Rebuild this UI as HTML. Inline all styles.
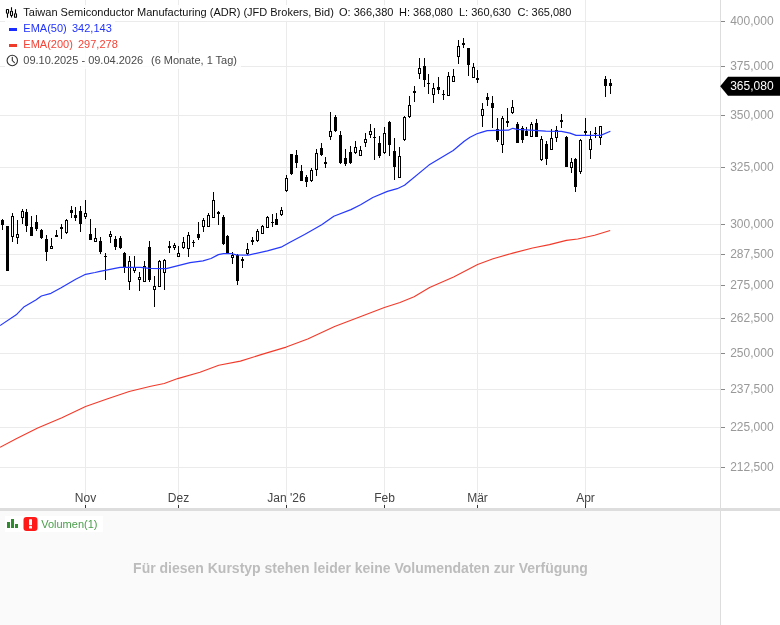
<!DOCTYPE html>
<html><head><meta charset="utf-8"><title>Chart</title>
<style>
html,body{margin:0;padding:0;background:#fff;}
body{width:780px;height:625px;overflow:hidden;font-family:"Liberation Sans",sans-serif;}
svg{display:block;will-change:transform;}
text{font-family:"Liberation Sans",sans-serif;}
</style></head><body>
<svg width="780" height="625" viewBox="0 0 780 625">
<rect x="0" y="0" width="780" height="625" fill="#ffffff"/>

<g shape-rendering="crispEdges">
<rect x="0" y="21" width="720" height="1" fill="#ebebeb"/>
<rect x="0" y="66" width="720" height="1" fill="#ebebeb"/>
<rect x="0" y="115" width="720" height="1" fill="#ebebeb"/>
<rect x="0" y="167" width="720" height="1" fill="#ebebeb"/>
<rect x="0" y="224" width="720" height="1" fill="#ebebeb"/>
<rect x="0" y="254" width="720" height="1" fill="#ebebeb"/>
<rect x="0" y="285" width="720" height="1" fill="#ebebeb"/>
<rect x="0" y="318" width="720" height="1" fill="#ebebeb"/>
<rect x="0" y="353" width="720" height="1" fill="#ebebeb"/>
<rect x="0" y="389" width="720" height="1" fill="#ebebeb"/>
<rect x="0" y="427" width="720" height="1" fill="#ebebeb"/>
<rect x="0" y="467" width="720" height="1" fill="#ebebeb"/>
<rect x="85" y="0" width="1" height="508" fill="#ebebeb"/>
<rect x="178" y="0" width="1" height="508" fill="#ebebeb"/>
<rect x="286" y="0" width="1" height="508" fill="#ebebeb"/>
<rect x="384" y="0" width="1" height="508" fill="#ebebeb"/>
<rect x="477" y="0" width="1" height="508" fill="#ebebeb"/>
<rect x="585" y="0" width="1" height="508" fill="#ebebeb"/>
</g>
<g shape-rendering="crispEdges">
<rect x="0" y="511" width="720" height="114" fill="#fafafa"/>
<rect x="0" y="508" width="780" height="3" fill="#dddddd"/>
<rect x="720" y="0" width="1" height="625" fill="#dddddd"/>
<rect x="721" y="21" width="4" height="1" fill="#888888"/>
<rect x="721" y="66" width="4" height="1" fill="#888888"/>
<rect x="721" y="115" width="4" height="1" fill="#888888"/>
<rect x="721" y="167" width="4" height="1" fill="#888888"/>
<rect x="721" y="224" width="4" height="1" fill="#888888"/>
<rect x="721" y="254" width="4" height="1" fill="#888888"/>
<rect x="721" y="285" width="4" height="1" fill="#888888"/>
<rect x="721" y="318" width="4" height="1" fill="#888888"/>
<rect x="721" y="353" width="4" height="1" fill="#888888"/>
<rect x="721" y="389" width="4" height="1" fill="#888888"/>
<rect x="721" y="427" width="4" height="1" fill="#888888"/>
<rect x="721" y="467" width="4" height="1" fill="#888888"/>
<rect x="85" y="505" width="1" height="3" fill="#333333"/>
<rect x="178" y="505" width="1" height="3" fill="#333333"/>
<rect x="286" y="505" width="1" height="3" fill="#333333"/>
<rect x="384" y="505" width="1" height="3" fill="#333333"/>
<rect x="477" y="505" width="1" height="3" fill="#333333"/>
<rect x="585" y="505" width="1" height="3" fill="#333333"/>
</g>
<g shape-rendering="crispEdges">
<rect x="2" y="219" width="1" height="11" fill="#000"/>
<rect x="1" y="220" width="3" height="5" fill="#000"/>
<rect x="7" y="226" width="1" height="45" fill="#000"/>
<rect x="6" y="226" width="3" height="45" fill="#000"/>
<rect x="12" y="213" width="1" height="29" fill="#000"/>
<rect x="11" y="216" width="3" height="21" fill="#000"/>
<rect x="12" y="217" width="1" height="19" fill="#fff"/>
<rect x="17" y="220" width="1" height="24" fill="#000"/>
<rect x="16" y="234" width="3" height="4" fill="#000"/>
<rect x="17" y="235" width="1" height="2" fill="#fff"/>
<rect x="22" y="209" width="1" height="15" fill="#000"/>
<rect x="21" y="211" width="3" height="7" fill="#000"/>
<rect x="22" y="212" width="1" height="5" fill="#fff"/>
<rect x="26" y="209" width="1" height="23" fill="#000"/>
<rect x="25" y="212" width="3" height="14" fill="#000"/>
<rect x="31" y="216" width="1" height="20" fill="#000"/>
<rect x="30" y="227" width="3" height="9" fill="#000"/>
<rect x="36" y="215" width="1" height="16" fill="#000"/>
<rect x="35" y="222" width="3" height="7" fill="#000"/>
<rect x="41" y="229" width="1" height="10" fill="#000"/>
<rect x="40" y="230" width="3" height="8" fill="#000"/>
<rect x="46" y="235" width="1" height="26" fill="#000"/>
<rect x="45" y="239" width="3" height="13" fill="#000"/>
<rect x="51" y="238" width="1" height="11" fill="#000"/>
<rect x="50" y="246" width="3" height="3" fill="#000"/>
<rect x="51" y="247" width="1" height="1" fill="#fff"/>
<rect x="56" y="230" width="1" height="7" fill="#000"/>
<rect x="55" y="235" width="3" height="2" fill="#000"/>
<rect x="61" y="224" width="1" height="15" fill="#000"/>
<rect x="60" y="227" width="3" height="2" fill="#000"/>
<rect x="66" y="219" width="1" height="15" fill="#000"/>
<rect x="65" y="220" width="3" height="13" fill="#000"/>
<rect x="66" y="221" width="1" height="11" fill="#fff"/>
<rect x="71" y="206" width="1" height="12" fill="#000"/>
<rect x="70" y="210" width="3" height="3" fill="#000"/>
<rect x="75" y="207" width="1" height="14" fill="#000"/>
<rect x="74" y="215" width="3" height="3" fill="#000"/>
<rect x="80" y="206" width="1" height="26" fill="#000"/>
<rect x="79" y="211" width="3" height="13" fill="#000"/>
<rect x="85" y="200" width="1" height="19" fill="#000"/>
<rect x="84" y="213" width="3" height="4" fill="#000"/>
<rect x="85" y="214" width="1" height="2" fill="#fff"/>
<rect x="90" y="219" width="1" height="21" fill="#000"/>
<rect x="89" y="234" width="3" height="6" fill="#000"/>
<rect x="95" y="228" width="1" height="14" fill="#000"/>
<rect x="94" y="238" width="3" height="4" fill="#000"/>
<rect x="95" y="239" width="1" height="2" fill="#fff"/>
<rect x="100" y="237" width="1" height="17" fill="#000"/>
<rect x="99" y="241" width="3" height="11" fill="#000"/>
<rect x="105" y="253" width="1" height="27" fill="#000"/>
<rect x="104" y="256" width="3" height="1" fill="#000"/>
<rect x="110" y="231" width="1" height="12" fill="#000"/>
<rect x="109" y="234" width="3" height="3" fill="#000"/>
<rect x="110" y="235" width="1" height="1" fill="#fff"/>
<rect x="115" y="236" width="1" height="14" fill="#000"/>
<rect x="114" y="239" width="3" height="8" fill="#000"/>
<rect x="120" y="236" width="1" height="13" fill="#000"/>
<rect x="119" y="238" width="3" height="10" fill="#000"/>
<rect x="124" y="252" width="1" height="21" fill="#000"/>
<rect x="123" y="253" width="3" height="15" fill="#000"/>
<rect x="129" y="256" width="1" height="34" fill="#000"/>
<rect x="128" y="261" width="3" height="21" fill="#000"/>
<rect x="129" y="262" width="1" height="19" fill="#fff"/>
<rect x="134" y="256" width="1" height="17" fill="#000"/>
<rect x="133" y="267" width="3" height="4" fill="#000"/>
<rect x="134" y="268" width="1" height="2" fill="#fff"/>
<rect x="139" y="272" width="1" height="19" fill="#000"/>
<rect x="138" y="277" width="3" height="3" fill="#000"/>
<rect x="139" y="278" width="1" height="1" fill="#fff"/>
<rect x="144" y="261" width="1" height="21" fill="#000"/>
<rect x="143" y="266" width="3" height="16" fill="#000"/>
<rect x="144" y="267" width="1" height="14" fill="#fff"/>
<rect x="149" y="241" width="1" height="41" fill="#000"/>
<rect x="148" y="247" width="3" height="33" fill="#000"/>
<rect x="154" y="276" width="1" height="31" fill="#000"/>
<rect x="153" y="286" width="3" height="4" fill="#000"/>
<rect x="154" y="287" width="1" height="2" fill="#fff"/>
<rect x="159" y="260" width="1" height="27" fill="#000"/>
<rect x="158" y="261" width="3" height="26" fill="#000"/>
<rect x="159" y="262" width="1" height="24" fill="#fff"/>
<rect x="164" y="259" width="1" height="31" fill="#000"/>
<rect x="163" y="260" width="3" height="13" fill="#000"/>
<rect x="164" y="261" width="1" height="11" fill="#fff"/>
<rect x="169" y="241" width="1" height="12" fill="#000"/>
<rect x="168" y="246" width="3" height="2" fill="#000"/>
<rect x="174" y="243" width="1" height="7" fill="#000"/>
<rect x="173" y="245" width="3" height="3" fill="#000"/>
<rect x="174" y="246" width="1" height="1" fill="#fff"/>
<rect x="178" y="246" width="1" height="11" fill="#000"/>
<rect x="177" y="253" width="3" height="4" fill="#000"/>
<rect x="178" y="254" width="1" height="2" fill="#fff"/>
<rect x="183" y="237" width="1" height="12" fill="#000"/>
<rect x="182" y="242" width="3" height="6" fill="#000"/>
<rect x="183" y="243" width="1" height="4" fill="#fff"/>
<rect x="188" y="232" width="1" height="25" fill="#000"/>
<rect x="187" y="235" width="3" height="14" fill="#000"/>
<rect x="188" y="236" width="1" height="12" fill="#fff"/>
<rect x="193" y="240" width="1" height="7" fill="#000"/>
<rect x="192" y="242" width="3" height="1" fill="#000"/>
<rect x="198" y="222" width="1" height="18" fill="#000"/>
<rect x="197" y="234" width="3" height="4" fill="#000"/>
<rect x="203" y="218" width="1" height="14" fill="#000"/>
<rect x="202" y="220" width="3" height="7" fill="#000"/>
<rect x="203" y="221" width="1" height="5" fill="#fff"/>
<rect x="208" y="213" width="1" height="14" fill="#000"/>
<rect x="207" y="215" width="3" height="12" fill="#000"/>
<rect x="208" y="216" width="1" height="10" fill="#fff"/>
<rect x="213" y="192" width="1" height="26" fill="#000"/>
<rect x="212" y="200" width="3" height="18" fill="#000"/>
<rect x="213" y="201" width="1" height="16" fill="#fff"/>
<rect x="218" y="211" width="1" height="14" fill="#000"/>
<rect x="217" y="212" width="3" height="2" fill="#000"/>
<rect x="223" y="215" width="1" height="30" fill="#000"/>
<rect x="222" y="217" width="3" height="27" fill="#000"/>
<rect x="227" y="235" width="1" height="19" fill="#000"/>
<rect x="226" y="236" width="3" height="18" fill="#000"/>
<rect x="232" y="252" width="1" height="12" fill="#000"/>
<rect x="231" y="255" width="3" height="3" fill="#000"/>
<rect x="232" y="256" width="1" height="1" fill="#fff"/>
<rect x="237" y="254" width="1" height="31" fill="#000"/>
<rect x="236" y="255" width="3" height="26" fill="#000"/>
<rect x="242" y="257" width="1" height="11" fill="#000"/>
<rect x="241" y="259" width="3" height="2" fill="#000"/>
<rect x="247" y="243" width="1" height="12" fill="#000"/>
<rect x="246" y="249" width="3" height="5" fill="#000"/>
<rect x="247" y="250" width="1" height="3" fill="#fff"/>
<rect x="252" y="237" width="1" height="8" fill="#000"/>
<rect x="251" y="240" width="3" height="2" fill="#000"/>
<rect x="257" y="229" width="1" height="13" fill="#000"/>
<rect x="256" y="231" width="3" height="10" fill="#000"/>
<rect x="257" y="232" width="1" height="8" fill="#fff"/>
<rect x="262" y="225" width="1" height="9" fill="#000"/>
<rect x="261" y="226" width="3" height="8" fill="#000"/>
<rect x="262" y="227" width="1" height="6" fill="#fff"/>
<rect x="267" y="216" width="1" height="12" fill="#000"/>
<rect x="266" y="217" width="3" height="11" fill="#000"/>
<rect x="267" y="218" width="1" height="9" fill="#fff"/>
<rect x="272" y="214" width="1" height="13" fill="#000"/>
<rect x="271" y="222" width="3" height="1" fill="#000"/>
<rect x="276" y="213" width="1" height="12" fill="#000"/>
<rect x="275" y="219" width="3" height="6" fill="#000"/>
<rect x="281" y="207" width="1" height="9" fill="#000"/>
<rect x="280" y="210" width="3" height="5" fill="#000"/>
<rect x="281" y="211" width="1" height="3" fill="#fff"/>
<rect x="286" y="175" width="1" height="17" fill="#000"/>
<rect x="285" y="178" width="3" height="13" fill="#000"/>
<rect x="286" y="179" width="1" height="11" fill="#fff"/>
<rect x="291" y="154" width="1" height="21" fill="#000"/>
<rect x="290" y="154" width="3" height="20" fill="#000"/>
<rect x="296" y="150" width="1" height="18" fill="#000"/>
<rect x="295" y="155" width="3" height="8" fill="#000"/>
<rect x="301" y="165" width="1" height="16" fill="#000"/>
<rect x="300" y="171" width="3" height="10" fill="#000"/>
<rect x="306" y="175" width="1" height="12" fill="#000"/>
<rect x="305" y="177" width="3" height="5" fill="#000"/>
<rect x="311" y="168" width="1" height="14" fill="#000"/>
<rect x="310" y="170" width="3" height="11" fill="#000"/>
<rect x="311" y="171" width="1" height="9" fill="#fff"/>
<rect x="316" y="149" width="1" height="27" fill="#000"/>
<rect x="315" y="153" width="3" height="17" fill="#000"/>
<rect x="316" y="154" width="1" height="15" fill="#fff"/>
<rect x="321" y="143" width="1" height="13" fill="#000"/>
<rect x="320" y="148" width="3" height="7" fill="#000"/>
<rect x="325" y="157" width="1" height="11" fill="#000"/>
<rect x="324" y="162" width="3" height="2" fill="#000"/>
<rect x="330" y="112" width="1" height="28" fill="#000"/>
<rect x="329" y="131" width="3" height="6" fill="#000"/>
<rect x="330" y="132" width="1" height="4" fill="#fff"/>
<rect x="335" y="115" width="1" height="17" fill="#000"/>
<rect x="334" y="117" width="3" height="14" fill="#000"/>
<rect x="340" y="131" width="1" height="33" fill="#000"/>
<rect x="339" y="135" width="3" height="28" fill="#000"/>
<rect x="345" y="149" width="1" height="17" fill="#000"/>
<rect x="344" y="158" width="3" height="6" fill="#000"/>
<rect x="350" y="146" width="1" height="18" fill="#000"/>
<rect x="349" y="152" width="3" height="11" fill="#000"/>
<rect x="355" y="141" width="1" height="13" fill="#000"/>
<rect x="354" y="147" width="3" height="6" fill="#000"/>
<rect x="355" y="148" width="1" height="4" fill="#fff"/>
<rect x="360" y="146" width="1" height="10" fill="#000"/>
<rect x="359" y="150" width="3" height="6" fill="#000"/>
<rect x="360" y="151" width="1" height="4" fill="#fff"/>
<rect x="365" y="133" width="1" height="14" fill="#000"/>
<rect x="364" y="139" width="3" height="4" fill="#000"/>
<rect x="365" y="140" width="1" height="2" fill="#fff"/>
<rect x="370" y="124" width="1" height="14" fill="#000"/>
<rect x="369" y="131" width="3" height="4" fill="#000"/>
<rect x="370" y="132" width="1" height="2" fill="#fff"/>
<rect x="374" y="128" width="1" height="32" fill="#000"/>
<rect x="373" y="137" width="3" height="1" fill="#000"/>
<rect x="379" y="136" width="1" height="22" fill="#000"/>
<rect x="378" y="143" width="3" height="13" fill="#000"/>
<rect x="384" y="127" width="1" height="27" fill="#000"/>
<rect x="383" y="133" width="3" height="20" fill="#000"/>
<rect x="384" y="134" width="1" height="18" fill="#fff"/>
<rect x="389" y="121" width="1" height="35" fill="#000"/>
<rect x="388" y="122" width="3" height="23" fill="#000"/>
<rect x="394" y="138" width="1" height="42" fill="#000"/>
<rect x="393" y="151" width="3" height="16" fill="#000"/>
<rect x="399" y="147" width="1" height="31" fill="#000"/>
<rect x="398" y="156" width="3" height="22" fill="#000"/>
<rect x="399" y="157" width="1" height="20" fill="#fff"/>
<rect x="404" y="116" width="1" height="25" fill="#000"/>
<rect x="403" y="117" width="3" height="23" fill="#000"/>
<rect x="404" y="118" width="1" height="21" fill="#fff"/>
<rect x="409" y="96" width="1" height="22" fill="#000"/>
<rect x="408" y="105" width="3" height="12" fill="#000"/>
<rect x="409" y="106" width="1" height="10" fill="#fff"/>
<rect x="414" y="86" width="1" height="16" fill="#000"/>
<rect x="413" y="91" width="3" height="2" fill="#000"/>
<rect x="419" y="58" width="1" height="21" fill="#000"/>
<rect x="418" y="68" width="3" height="6" fill="#000"/>
<rect x="419" y="69" width="1" height="4" fill="#fff"/>
<rect x="424" y="58" width="1" height="29" fill="#000"/>
<rect x="423" y="66" width="3" height="14" fill="#000"/>
<rect x="428" y="74" width="1" height="20" fill="#000"/>
<rect x="427" y="83" width="3" height="1" fill="#000"/>
<rect x="433" y="83" width="1" height="20" fill="#000"/>
<rect x="432" y="88" width="3" height="7" fill="#000"/>
<rect x="433" y="89" width="1" height="5" fill="#fff"/>
<rect x="438" y="77" width="1" height="17" fill="#000"/>
<rect x="437" y="87" width="3" height="3" fill="#000"/>
<rect x="443" y="90" width="1" height="10" fill="#000"/>
<rect x="442" y="94" width="3" height="1" fill="#000"/>
<rect x="448" y="72" width="1" height="24" fill="#000"/>
<rect x="447" y="76" width="3" height="20" fill="#000"/>
<rect x="448" y="77" width="1" height="18" fill="#fff"/>
<rect x="453" y="69" width="1" height="13" fill="#000"/>
<rect x="452" y="76" width="3" height="6" fill="#000"/>
<rect x="453" y="77" width="1" height="4" fill="#fff"/>
<rect x="458" y="40" width="1" height="24" fill="#000"/>
<rect x="457" y="46" width="3" height="11" fill="#000"/>
<rect x="458" y="47" width="1" height="9" fill="#fff"/>
<rect x="463" y="38" width="1" height="10" fill="#000"/>
<rect x="462" y="43" width="3" height="2" fill="#000"/>
<rect x="468" y="48" width="1" height="28" fill="#000"/>
<rect x="467" y="48" width="3" height="17" fill="#000"/>
<rect x="473" y="63" width="1" height="15" fill="#000"/>
<rect x="472" y="67" width="3" height="11" fill="#000"/>
<rect x="473" y="68" width="1" height="9" fill="#fff"/>
<rect x="477" y="70" width="1" height="13" fill="#000"/>
<rect x="476" y="78" width="3" height="2" fill="#000"/>
<rect x="482" y="103" width="1" height="24" fill="#000"/>
<rect x="481" y="109" width="3" height="7" fill="#000"/>
<rect x="482" y="110" width="1" height="5" fill="#fff"/>
<rect x="487" y="93" width="1" height="13" fill="#000"/>
<rect x="486" y="97" width="3" height="3" fill="#000"/>
<rect x="492" y="96" width="1" height="32" fill="#000"/>
<rect x="491" y="103" width="3" height="5" fill="#000"/>
<rect x="497" y="118" width="1" height="24" fill="#000"/>
<rect x="496" y="129" width="3" height="11" fill="#000"/>
<rect x="502" y="116" width="1" height="37" fill="#000"/>
<rect x="501" y="118" width="3" height="27" fill="#000"/>
<rect x="502" y="119" width="1" height="25" fill="#fff"/>
<rect x="507" y="108" width="1" height="19" fill="#000"/>
<rect x="506" y="121" width="3" height="2" fill="#000"/>
<rect x="512" y="100" width="1" height="14" fill="#000"/>
<rect x="511" y="107" width="3" height="6" fill="#000"/>
<rect x="512" y="108" width="1" height="4" fill="#fff"/>
<rect x="517" y="122" width="1" height="21" fill="#000"/>
<rect x="516" y="124" width="3" height="19" fill="#000"/>
<rect x="522" y="126" width="1" height="17" fill="#000"/>
<rect x="521" y="128" width="3" height="12" fill="#000"/>
<rect x="526" y="127" width="1" height="9" fill="#000"/>
<rect x="525" y="131" width="3" height="5" fill="#000"/>
<rect x="531" y="122" width="1" height="15" fill="#000"/>
<rect x="530" y="124" width="3" height="13" fill="#000"/>
<rect x="531" y="125" width="1" height="11" fill="#fff"/>
<rect x="536" y="119" width="1" height="18" fill="#000"/>
<rect x="535" y="123" width="3" height="14" fill="#000"/>
<rect x="541" y="136" width="1" height="25" fill="#000"/>
<rect x="540" y="139" width="3" height="21" fill="#000"/>
<rect x="541" y="140" width="1" height="19" fill="#fff"/>
<rect x="546" y="141" width="1" height="24" fill="#000"/>
<rect x="545" y="144" width="3" height="15" fill="#000"/>
<rect x="551" y="129" width="1" height="21" fill="#000"/>
<rect x="550" y="138" width="3" height="12" fill="#000"/>
<rect x="551" y="139" width="1" height="10" fill="#fff"/>
<rect x="556" y="126" width="1" height="16" fill="#000"/>
<rect x="555" y="130" width="3" height="8" fill="#000"/>
<rect x="556" y="131" width="1" height="6" fill="#fff"/>
<rect x="561" y="114" width="1" height="14" fill="#000"/>
<rect x="560" y="120" width="3" height="2" fill="#000"/>
<rect x="566" y="136" width="1" height="31" fill="#000"/>
<rect x="565" y="137" width="3" height="30" fill="#000"/>
<rect x="571" y="158" width="1" height="15" fill="#000"/>
<rect x="570" y="162" width="3" height="6" fill="#000"/>
<rect x="571" y="163" width="1" height="4" fill="#fff"/>
<rect x="575" y="158" width="1" height="34" fill="#000"/>
<rect x="574" y="159" width="3" height="28" fill="#000"/>
<rect x="580" y="139" width="1" height="35" fill="#000"/>
<rect x="579" y="140" width="3" height="32" fill="#000"/>
<rect x="580" y="141" width="1" height="30" fill="#fff"/>
<rect x="585" y="118" width="1" height="17" fill="#000"/>
<rect x="584" y="131" width="3" height="2" fill="#000"/>
<rect x="590" y="131" width="1" height="28" fill="#000"/>
<rect x="589" y="139" width="3" height="11" fill="#000"/>
<rect x="590" y="140" width="1" height="9" fill="#fff"/>
<rect x="595" y="127" width="1" height="11" fill="#000"/>
<rect x="594" y="133" width="3" height="1" fill="#000"/>
<rect x="600" y="126" width="1" height="19" fill="#000"/>
<rect x="599" y="126" width="3" height="12" fill="#000"/>
<rect x="600" y="127" width="1" height="10" fill="#fff"/>
<rect x="605" y="76" width="1" height="21" fill="#000"/>
<rect x="604" y="79" width="3" height="7" fill="#000"/>
<rect x="610" y="79" width="1" height="15" fill="#000"/>
<rect x="609" y="83" width="3" height="3" fill="#000"/>
</g>
<path d="M0.0,447.3 L16.2,438.7 L37.7,427.9 L61.9,417.7 L85.6,406.4 L107.7,398.8 L129.2,391.5 L150.8,386.2 L164.2,383.5 L177.7,378.6 L200.0,372.2 L218.8,365.2 L240.4,361.1 L261.9,354.4 L286.2,347.1 L307.7,339.0 L334.6,326.4 L361.5,316.2 L384.4,307.5 L400.0,302.4 L414.1,296.8 L429.6,287.5 L453.6,277.1 L477.6,264.4 L493.1,258.7 L512.8,253.1 L532.6,248.0 L549.5,244.6 L566.4,240.4 L577.7,239.0 L594.6,235.3 L610.2,230.5" fill="none" stroke="#f23a2a" stroke-width="1.1" stroke-linejoin="round"/>
<path d="M0.0,325.6 L16.2,314.8 L24.2,306.7 L35.8,300.0 L41.4,296.0 L51.0,293.3 L60.7,288.0 L75.7,279.2 L85.6,274.3 L95.0,272.5 L100.0,271.3 L115.0,268.4 L120.2,267.4 L130.0,267.3 L140.6,267.3 L149.6,268.4 L166.2,268.6 L190.0,262.7 L203.0,260.9 L211.0,258.5 L218.4,254.6 L223.5,253.6 L231.2,253.5 L236.3,254.9 L248.3,255.2 L267.4,250.9 L281.0,247.2 L290.0,242.3 L304.6,234.5 L321.7,224.8 L333.8,216.2 L350.9,209.6 L360.6,204.8 L372.8,197.5 L387.4,191.4 L397.2,188.7 L404.5,185.3 L428.9,165.1 L453.2,150.5 L464.2,141.3 L470.0,137.3 L477.0,133.8 L481.4,132.4 L487.2,130.7 L497.0,130.4 L508.3,130.2 L512.8,128.3 L517.2,129.4 L530.0,130.2 L545.7,131.2 L561.3,131.4 L570.0,133.1 L576.1,135.4 L600.7,135.4 L610.4,131.3" fill="none" stroke="#2438ff" stroke-width="1.2" stroke-linejoin="round"/>
<text x="730.2" y="25.2" font-size="12" fill="#999999">400,000</text>
<text x="730.2" y="70.2" font-size="12" fill="#999999">375,000</text>
<text x="730.2" y="119.2" font-size="12" fill="#999999">350,000</text>
<text x="730.2" y="171.2" font-size="12" fill="#999999">325,000</text>
<text x="730.2" y="228.2" font-size="12" fill="#999999">300,000</text>
<text x="730.2" y="258.2" font-size="12" fill="#999999">287,500</text>
<text x="730.2" y="289.2" font-size="12" fill="#999999">275,000</text>
<text x="730.2" y="322.2" font-size="12" fill="#999999">262,500</text>
<text x="730.2" y="357.2" font-size="12" fill="#999999">250,000</text>
<text x="730.2" y="393.2" font-size="12" fill="#999999">237,500</text>
<text x="730.2" y="431.2" font-size="12" fill="#999999">225,000</text>
<text x="730.2" y="471.2" font-size="12" fill="#999999">212,500</text>
<path d="M720.2,86.3 L728,76.8 L780,76.8 L780,95.8 L728,95.8 Z" fill="#000"/>
<text x="730.2" y="90.4" font-size="12" fill="#ffffff">365,080</text>
<text x="85.5" y="501.6" font-size="12" fill="#444444" text-anchor="middle">Nov</text>
<text x="178.5" y="501.6" font-size="12" fill="#444444" text-anchor="middle">Dez</text>
<text x="286.5" y="501.6" font-size="12" fill="#444444" text-anchor="middle">Jan '26</text>
<text x="384.5" y="501.6" font-size="12" fill="#444444" text-anchor="middle">Feb</text>
<text x="477.5" y="501.6" font-size="12" fill="#444444" text-anchor="middle">Mär</text>
<text x="585.5" y="501.6" font-size="12" fill="#444444" text-anchor="middle">Apr</text>
<g shape-rendering="crispEdges">
<rect x="5" y="5" width="569" height="16" fill="#fff" fill-opacity="0.85"/>
<rect x="5" y="21" width="110" height="16" fill="#fff" fill-opacity="0.85"/>
<rect x="5" y="37" width="116" height="16" fill="#fff" fill-opacity="0.85"/>
<rect x="5" y="53" width="236" height="16" fill="#fff" fill-opacity="0.85"/>
</g>
<g fill="none" stroke="#000" stroke-width="1.1">
<path d="M7.5,13.8 V17.7 M11.5,7.2 V10.7 M11.5,16 V17.6 M15.5,9.3 V13.2" stroke-linecap="butt"/>
<rect x="6.45" y="9.45" width="2.1" height="3.8" rx="0.4"/>
<rect x="10.5" y="11.2" width="2.0" height="4.25" rx="0.4"/>
<rect x="14.5" y="13.7" width="2.0" height="3.55" rx="0.3"/>
</g>
<rect x="9" y="28" width="8" height="3" fill="#1a2cff" shape-rendering="crispEdges"/>
<rect x="9" y="44" width="8" height="3" fill="#f03a2a" shape-rendering="crispEdges"/>
<g fill="none" stroke="#333" stroke-width="1.1" stroke-linecap="round"><circle cx="12.3" cy="60.5" r="5.2"/><path d="M12.3,57.3 V60.6 L14.4,62.6"/></g>
<text x="23.3" y="16.1" font-size="11" fill="#111">Taiwan Semiconductor Manufacturing (ADR) (JFD Brokers, Bid)</text>
<text x="339" y="16.1" font-size="11" fill="#111">O: 366,380</text>
<text x="399" y="16.1" font-size="11" fill="#111">H: 368,080</text>
<text x="459" y="16.1" font-size="11" fill="#111">L: 360,630</text>
<text x="517.5" y="16.1" font-size="11" fill="#111">C: 365,080</text>
<text x="23.3" y="32.1" font-size="11" fill="#2233ff">EMA(50)</text>
<text x="72" y="32.1" font-size="11" fill="#2233ff">342,143</text>
<text x="23.3" y="47.9" font-size="11" fill="#f44336">EMA(200)</text>
<text x="78" y="47.9" font-size="11" fill="#f44336">297,278</text>
<text x="23.3" y="63.8" font-size="11" fill="#4a4a4a">09.10.2025 - 09.04.2026</text>
<text x="151" y="63.8" font-size="11" fill="#4a4a4a">(6 Monate, 1 Tag)</text>
<rect x="5" y="516" width="98" height="16" fill="#fff" shape-rendering="crispEdges"/>
<g fill="#2e8b2e" shape-rendering="crispEdges"><rect x="7" y="522" width="3" height="6"/><rect x="11" y="519" width="3" height="9"/><rect x="15" y="524" width="3" height="4"/></g>
<rect x="23.5" y="517" width="14" height="14" rx="3" fill="#ff1a1a"/>
<rect x="29" y="519.2" width="3" height="6" rx="0.6" fill="#fff"/><rect x="29" y="526" width="3" height="2.6" rx="0.6" fill="#fff"/>
<text x="41.2" y="527.6" font-size="11" fill="#4a9d4a">Volumen(1)</text>
<text x="360.5" y="572.8" font-size="14" font-weight="bold" fill="#bcbcbc" text-anchor="middle">Für diesen Kurstyp stehen leider keine Volumendaten zur Verfügung</text>
</svg></body></html>
